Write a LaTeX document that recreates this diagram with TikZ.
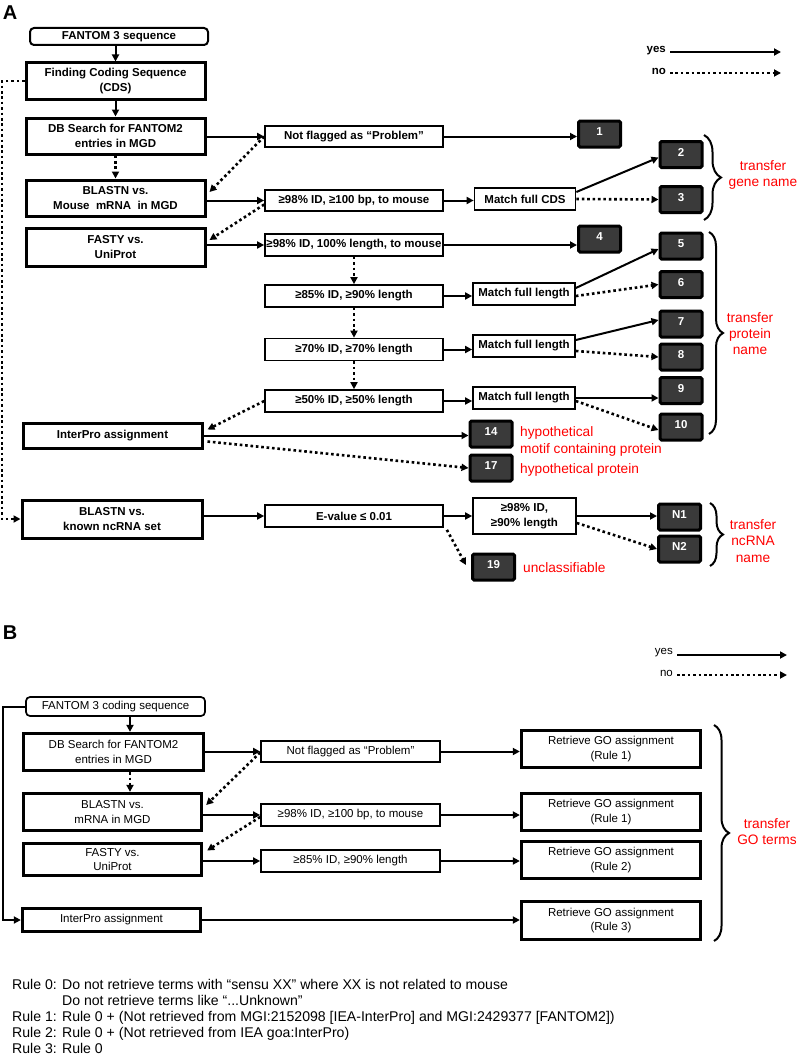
\documentclass[tikz,border=0pt]{standalone}
\usepackage{fontspec}
\setmainfont{Liberation Sans}
\usetikzlibrary{arrows.meta}
\usetikzlibrary{calc}
\usetikzlibrary{decorations.pathreplacing}

\begin{document}
\begin{tikzpicture}[x=1pt,y=1pt,yscale=-1,xscale=1,
  boldbox/.style={draw, line width=3pt, inner sep=0pt, align=center, font=\bfseries\fontsize{11.5}{14.5}\selectfont},
  thinbold/.style={draw, line width=1.7pt, inner sep=0pt, align=center, font=\bfseries\fontsize{11.5}{14.5}\selectfont},
  startbold/.style={thinbold, line width=2pt, rounded corners=4pt},
  numbox/.style={draw, line width=3pt, rounded corners=1.5pt, fill={rgb, 255:red, 58; green, 58; blue, 58}, text=white, inner sep=0pt, minimum width=42pt, minimum height=26pt, text height=8pt, text depth=5pt, font=\bfseries\fontsize{11.5}{13}\selectfont},
  plainbox/.style={draw, line width=3.3pt, inner sep=0pt, align=center, font=\fontsize{11.5}{14.5}\selectfont},
  thinplain/.style={draw, line width=1.7pt, inner sep=0pt, align=center, font=\fontsize{11.5}{14.5}\selectfont},
  redlabel/.style={text=red, inner sep=0pt, font=\fontsize{13.7}{16.3}\selectfont},
  yesarr/.style={line width=2pt, -{Triangle[length=7pt,width=7pt]}},
  noarr/.style={line width=2.6pt, dash pattern=on 2.6pt off 2.8pt, -{Triangle[length=7pt,width=7pt]}},
  bracket/.style={line width=2pt, decorate, decoration={brace, amplitude=#1}},
]
\useasboundingbox (0,0) rectangle (797,1057);

%%%%%%%%%%%%%%%%%%%%%%%%%%%%%%%% part A
% Text Node
\node[font=\bfseries\fontsize{20}{20}\selectfont, inner sep=0pt] (labA) at (10,13) {A};

%Shape: Rectangle [start]
\node[startbold, minimum width=178pt, minimum height=17pt] (fan3) at (119,36.5) {FANTOM 3 sequence};
%Shape: Rectangle [left column]
\node[boldbox, minimum width=179pt, minimum height=36pt] (cds) at (115.5,81) {Finding Coding Sequence\\(CDS)};
\node[boldbox, minimum width=179pt, minimum height=36pt] (dbs) at (115.5,136) {DB Search for FANTOM2\\entries in MGD};
\node[boldbox, minimum width=179pt, minimum height=36pt] (blastn) at (115.5,198) {BLASTN vs.\\Mouse\ \ mRNA\ \ in MGD};
\node[boldbox, minimum width=179pt, minimum height=38pt] (fasty) at (115.5,247) {FASTY vs.\\UniProt};
\node[boldbox, minimum width=179pt, minimum height=25pt] (interA) at (112.5,435.5) {InterPro assignment};
\node[boldbox, minimum width=180pt, minimum height=38pt] (ncrna) at (112,519) {BLASTN vs.\\known ncRNA set};

%Shape: Rectangle [criteria]
\node[thinbold, minimum width=178pt, minimum height=21.5pt] (nflag) at (354,136.5) {Not flagged as “Problem”};
\node[thinbold, minimum width=178pt, minimum height=21.5pt] (id98bp) at (354,200.5) {≥98\% ID, ≥100 bp, to mouse};
\node[thinbold, minimum width=178pt, minimum height=22pt] (id98len) at (354,245) {≥98\% ID, 100\% length, to mouse};
\node[thinbold, minimum width=178pt, minimum height=22pt] (id85) at (354,296) {≥85\% ID, ≥90\% length};
\node[thinbold, minimum width=178pt, minimum height=22pt] (id70) at (354,349.5) {≥70\% ID, ≥70\% length};
\node[thinbold, minimum width=178pt, minimum height=22pt] (id50) at (354,401) {≥50\% ID, ≥50\% length};
\node[thinbold, minimum width=178pt, minimum height=22pt] (evalue) at (354,516) {E-value ≤ 0.01};

%Shape: Rectangle [match]
\node[thinbold, minimum width=101pt, minimum height=22.5pt] (mcds) at (525,199) {Match full CDS};
\node[thinbold, minimum width=102pt, minimum height=22.5pt] (mfl1) at (524,294) {Match full length};
\node[thinbold, minimum width=102pt, minimum height=22.5pt] (mfl2) at (524,346) {Match full length};
\node[thinbold, minimum width=102pt, minimum height=22.5pt] (mfl3) at (524,398) {Match full length};
\node[thinbold, minimum width=103pt, minimum height=36pt] (mnc) at (524.5,516) {≥98\% ID,\\≥90\% length};

%Shape: Rectangle [results]
\node[numbox] (n1) at (599.5,134) {1};
\node[numbox] (n2) at (681,154.5) {2};
\node[numbox] (n3) at (681,199.5) {3};
\node[numbox] (n4) at (599.5,239) {4};
\node[numbox] (n5) at (681,246) {5};
\node[numbox] (n6) at (681,284.5) {6};
\node[numbox] (n7) at (681,324) {7};
\node[numbox] (n8) at (681,357) {8};
\node[numbox] (n9) at (681,390.5) {9};
\node[numbox] (n10) at (681,427) {10};
\node[numbox] (n14) at (491,434) {14};
\node[numbox] (n17) at (491,468) {17};
\node[numbox] (n19) at (493.5,567) {19};
\node[numbox] (nN1) at (679.5,517) {N1};
\node[numbox] (nN2) at (679.5,549) {N2};

% Text Node
\node[redlabel, anchor=west, align=left] (hypmotif) at (520,441.5) {hypothetical\\motif containing protein};
\node[redlabel, anchor=west] (hypprot) at (520,470) {hypothetical protein};
\node[redlabel, anchor=west] (unclass) at (523,568) {unclassifiable};
\node[redlabel, align=center] (trgene) at (763,175) {transfer\\gene name};
\node[redlabel, align=center] (trprot) at (750,333.5) {transfer\\protein\\name};
\node[redlabel, align=center] (trnc) at (753,541) {transfer\\ncRNA\\name};

%Shape: Brace
\draw[bracket=17pt] (704,135) -- (704,220);
\draw[bracket=14pt] (709,232) -- (709,434);
\draw[bracket=13pt] (710,503) -- (710,566);

% legend
\node[font=\bfseries\fontsize{11.5}{13}\selectfont, anchor=east, inner sep=0pt] (yesA) at (666,51) {yes};
\node[font=\bfseries\fontsize{11.5}{13}\selectfont, anchor=east, inner sep=0pt] (noA) at (666,71) {no};
\coordinate (yesAend) at (781,52);
\coordinate (noAend) at (781,73);
\draw[yesarr] ($(yesA.east)+(4,1)$) -- (yesAend);
\draw[noarr] ($(noA.east)+(4,2)$) -- (noAend);

%Straight Lines
\draw[yesarr] (fan3.south -| cds.north) -- (cds.north);
\draw[yesarr] (cds.south) -- (dbs.north);
\draw[noarr] (dbs.south) -- (blastn.north);
\draw[yesarr] (dbs.east |- nflag.west) -- (nflag.west);
\draw[noarr] (nflag.west) -- ($(blastn.east)+(3,-6)$);
\draw[yesarr] (nflag.east) -- (n1.west |- nflag.east);
\draw[yesarr] (blastn.east |- id98bp.west) -- (id98bp.west);
\draw[noarr] ($(id98bp.west)+(0,4)$) -- ($(fasty.east)+(3,-7)$);
\draw[yesarr] (id98bp.east) -- (mcds.west |- id98bp.east);
\draw[yesarr] ($(mcds.east)+(0,-7)$) -- ($(n2.west)+(0,3)$);
\draw[noarr] (mcds.east) -- (n3.west);
\draw[yesarr] (fasty.east |- id98len.west) -- (id98len.west);
\draw[yesarr] (id98len.east) -- (n4.west |- id98len.east);
\draw[noarr] (id98len.south) -- (id85.north);
\draw[yesarr] (id85.east) -- (mfl1.west |- id85.east);
\draw[yesarr] ($(mfl1.east)+(0,-6)$) -- ($(n5.west)+(0,3)$);
\draw[noarr] ($(mfl1.east)+(0,2)$) -- (n6.west);
\draw[noarr] (id85.south) -- (id70.north);
\draw[yesarr] (id70.east) -- (mfl2.west |- id70.east);
\draw[yesarr] ($(mfl2.east)+(0,-6)$) -- ($(n7.west)+(0,-4)$);
\draw[noarr] ($(mfl2.east)+(0,5)$) -- (n8.west);
\draw[noarr] (id70.south) -- (id50.north);
\draw[yesarr] (id50.east) -- (mfl3.west |- id50.east);
\draw[yesarr] (mfl3.east) -- (n9.west |- mfl3.east);
\draw[noarr] ($(mfl3.east)+(0,3)$) -- ($(n10.west)+(0,3)$);
\draw[noarr] (id50.west) -- ($(interA.east)+(4,-6)$);
\draw[yesarr] (interA.east) -- (n14.west |- interA.east);
\draw[noarr] ($(interA.east)+(4,6)$) -- (n17.west);
\coordinate (leftA) at (2,0);
\draw[noarr] (cds.west) -- (cds.west -| leftA) -- (ncrna.west -| leftA) -- (ncrna.west);
\draw[yesarr] (ncrna.east |- evalue.west) -- (evalue.west);
\draw[yesarr] (evalue.east) -- (mnc.west |- evalue.east);
\draw[noarr] ($(evalue.south east)+(3,2)$) -- ($(n19.west)+(-5,-2)$);
\draw[yesarr] (mnc.east) -- (nN1.west |- mnc.east);
\draw[noarr] ($(mnc.east)+(0,7)$) -- (nN2.west);

%%%%%%%%%%%%%%%%%%%%%%%%%%%%%%%% part B
% Text Node
\node[font=\bfseries\fontsize{20}{20}\selectfont, inner sep=0pt] (labB) at (10,633) {B};

%Shape: Rectangle [start]
\node[thinplain, rounded corners=4pt, minimum width=179pt, minimum height=19pt] (fan3b) at (115.5,706.5) {FANTOM 3 coding sequence};
%Shape: Rectangle [left column]
\node[plainbox, minimum width=180pt, minimum height=37pt] (dbsb) at (113.5,752) {DB Search for FANTOM2\\entries in MGD};
\node[plainbox, minimum width=178pt, minimum height=37pt] (blastnb) at (112.5,812) {BLASTN vs.\\mRNA in MGD};
\node[plainbox, minimum width=178pt, minimum height=32pt] (fastyb) at (112.5,859.5) {FASTY vs.\\UniProt};
\node[plainbox, minimum width=178pt, minimum height=23pt] (interB) at (111.5,920) {InterPro assignment};
%Shape: Rectangle [criteria]
\node[thinplain, minimum width=179pt, minimum height=21.5pt] (nflagb) at (350.5,751.5) {Not flagged as “Problem”};
\node[thinplain, minimum width=179pt, minimum height=22pt] (id98bpb) at (350.5,815) {≥98\% ID, ≥100 bp, to mouse};
\node[thinplain, minimum width=179pt, minimum height=22pt] (id85b) at (350.5,861) {≥85\% ID, ≥90\% length};
%Shape: Rectangle [GO]
\node[plainbox, minimum width=179pt, minimum height=37pt] (go1) at (611,749) {Retrieve GO assignment\\(Rule 1)};
\node[plainbox, minimum width=179pt, minimum height=37pt] (go2) at (611,812) {Retrieve GO assignment\\(Rule 1)};
\node[plainbox, minimum width=179pt, minimum height=37pt] (go3) at (611,860) {Retrieve GO assignment\\(Rule 2)};
\node[plainbox, minimum width=179pt, minimum height=38pt] (go4) at (611,920.5) {Retrieve GO assignment\\(Rule 3)};

%Shape: Brace
\draw[bracket=15pt] (714,725) -- (714,941);
% Text Node
\node[redlabel, align=center] (trgo) at (767,831.5) {transfer\\GO terms};

% legend
\node[font=\fontsize{11.5}{13}\selectfont, anchor=east, inner sep=0pt] (yesB) at (673,653) {yes};
\node[font=\fontsize{11.5}{13}\selectfont, anchor=east, inner sep=0pt] (noB) at (673,673) {no};
\coordinate (yesBend) at (787,655);
\coordinate (noBend) at (787,675);
\draw[yesarr] ($(yesB.east)+(4,2)$) -- (yesBend);
\draw[noarr] ($(noB.east)+(4,2)$) -- (noBend);

%Straight Lines
\coordinate (colB) at (130,0);
\coordinate (leftB) at (3,0);
\draw[yesarr] (fan3b.south -| colB) -- (dbsb.north -| colB);
\draw[noarr] (dbsb.south -| colB) -- (blastnb.north -| colB);
\draw[yesarr] (dbsb.east |- nflagb.west) -- (nflagb.west);
\draw[noarr] ($(nflagb.west)+(0,1)$) -- ($(blastnb.east)+(3,-7)$);
\draw[yesarr] (blastnb.east |- id98bpb.west) -- (id98bpb.west);
\draw[noarr] ($(id98bpb.west)+(0,2)$) -- ($(fastyb.east)+(4,-9)$);
\draw[yesarr] (fastyb.east |- id85b.west) -- (id85b.west);
\draw[yesarr] (nflagb.east) -- (go1.west |- nflagb.east);
\draw[yesarr] (id98bpb.east) -- (go2.west |- id98bpb.east);
\draw[yesarr] (id85b.east) -- (go3.west |- id85b.east);
\draw[yesarr] (interB.east) -- (go4.west |- interB.east);
\draw[yesarr] (fan3b.west) -- (fan3b.west -| leftB) -- (interB.west -| leftB) -- (interB.west);

% Text Node
\node[anchor=north west, inner sep=0pt, align=left, font=\fontsize{14.1}{16.1}\selectfont] (rules) at (12,979) {Rule 0: Do not retrieve terms with “sensu XX” where XX is not related to mouse\\\phantom{Rule 0: }Do not retrieve terms like “...Unknown”\\Rule 1: Rule 0 + (Not retrieved from MGI:2152098 [IEA-InterPro] and MGI:2429377 [FANTOM2])\\Rule 2: Rule 0 + (Not retrieved from IEA goa:InterPro)\\Rule 3: Rule 0};

\end{tikzpicture}
\end{document}
